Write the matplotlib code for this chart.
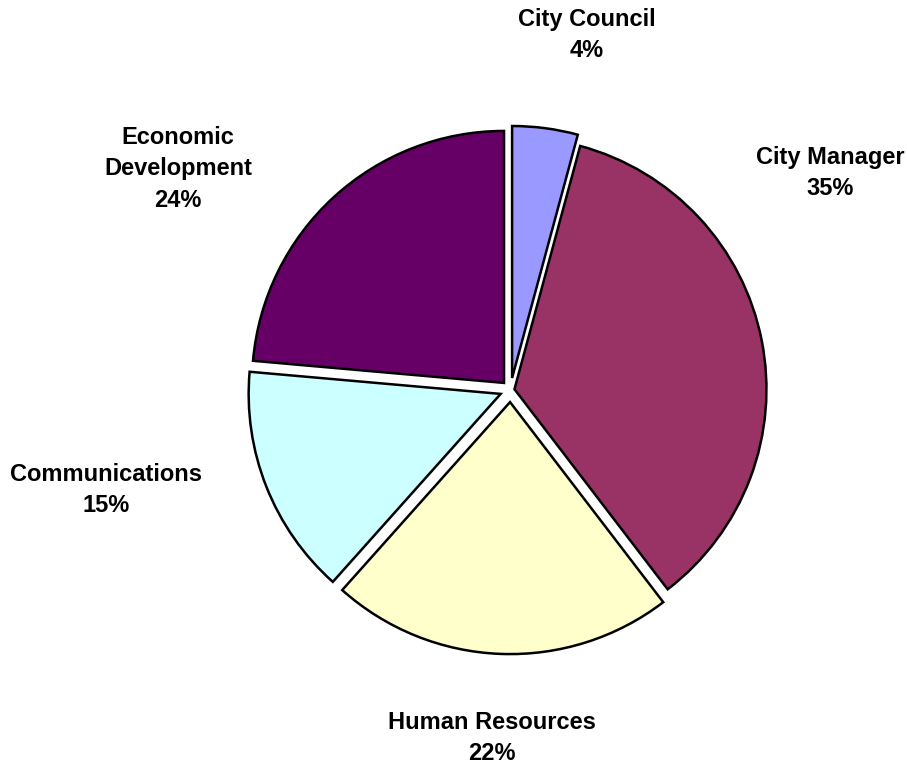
import matplotlib.pyplot as plt

plt.rcParams['font.family'] = ['Liberation Sans', 'DejaVu Sans']

# slice data, clockwise from the top
names = ["City Council", "City Manager", "Human Resources", "Communications", "Economic\nDevelopment"]
shares = [4.2, 35.4, 22.0, 14.8, 23.6]
colors = ["#9999FF", "#993366", "#FFFFCC", "#CCFFFF", "#660066"]
explode = [0.048, 0.016, 0.048, 0.042, 0.038]

# label centres in pixels of the 907x767 picture
label_px = [(587, 35), (830, 173), (492, 738), (106, 490), (178, 169)]

W, H = 907, 767
cx, cy, R = 510.5, 390, 252  # pie centre and radius in pixels

fig = plt.figure(figsize=(W / 100, H / 100), dpi=100)
ax = fig.add_axes([0, 0, 1, 1])

ax.pie(shares, colors=colors, explode=explode, startangle=90, counterclock=False,
       radius=1, wedgeprops=dict(edgecolor="black", linewidth=1.8, joinstyle="miter"))

for name, v, (px, py) in zip(names, shares, label_px):
    ax.text((px - cx) / R, (cy - py) / R, f"{name}\n{round(v)}%",
            ha="center", va="center", fontsize=17, fontweight="bold",
            linespacing=1.45, color="black")

ax.set_xlim(-cx / R, (W - cx) / R)
ax.set_ylim(-(H - cy) / R, cy / R)
ax.set_aspect("equal")
ax.axis("off")

fig.savefig("out.png", dpi=100, facecolor="white")
